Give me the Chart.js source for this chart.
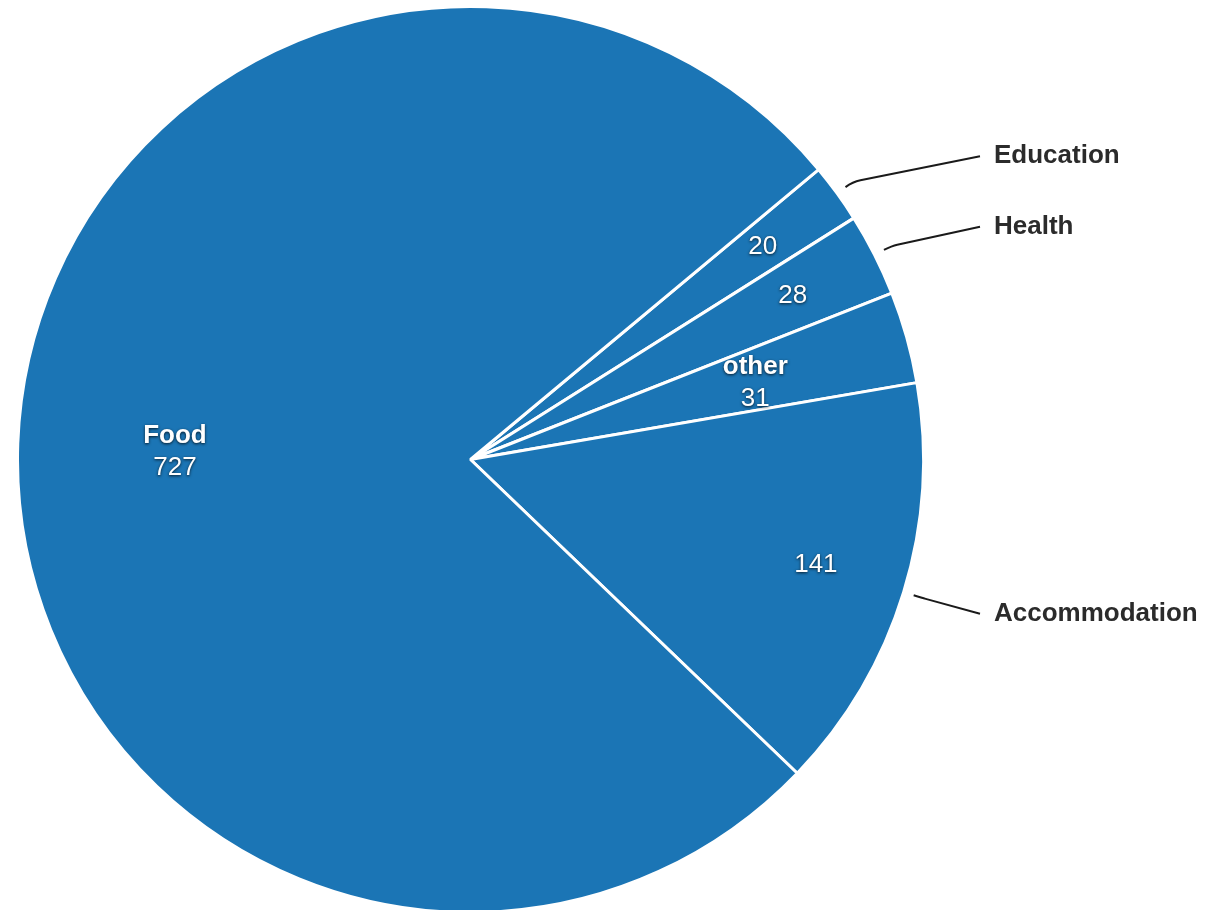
<!DOCTYPE html>
<html>
<head>
<meta charset="utf-8">
<script src="https://cdn.jsdelivr.net/npm/chart.js@4.4.1/dist/chart.umd.min.js"></script>
<style>
  html, body { margin: 0; padding: 0; background: #fff; }
  #wrap { width: 1209px; height: 910px; }
</style>
</head>
<body>
<div id="wrap"><canvas id="pie-chart"></canvas></div>
<script>
const categories = ['Education', 'Health', 'other', 'Accommodation', 'Food'];
const amounts = [20, 28, 31, 141, 727];
// where the category name goes: inside the slice with the value, or outside with a leader line
const namePlacement = ['outside', 'outside', 'inside', 'outside', 'inside'];

const fontFamily = '"Liberation Sans", Arial, Helvetica, sans-serif';

const sliceLabels = {
  id: 'sliceLabels',
  afterDatasetsDraw(chart) {
    const ctx = chart.ctx;
    const arcs = chart.getDatasetMeta(0).data;
    arcs.forEach((arc, i) => {
      const p = arc.getProps(['x', 'y', 'startAngle', 'endAngle', 'outerRadius'], true);
      const mid = (p.startAngle + p.endAngle) / 2;
      const R = p.outerRadius - 1.5;
      const inside = namePlacement[i] === 'inside';

      // white labels inside the slice
      ctx.save();
      ctx.fillStyle = '#fff';
      ctx.textAlign = 'center';
      ctx.textBaseline = 'middle';
      ctx.shadowColor = 'rgba(0,0,0,0.8)';
      ctx.shadowBlur = 3;
      ctx.shadowOffsetX = 0;
      ctx.shadowOffsetY = 1;
      if (inside) {
        const r = R * 0.655;
        const tx = p.x + Math.cos(mid) * r;
        const ty = p.y + Math.sin(mid) * r + 3;
        ctx.font = 'bold 26px ' + fontFamily;
        ctx.fillText(categories[i], tx, ty - 16);
        ctx.font = '26px ' + fontFamily;
        ctx.fillText(String(amounts[i]), tx, ty + 16);
      } else {
        const r = R * 0.8;
        ctx.font = '26px ' + fontFamily;
        ctx.fillText(String(amounts[i]), p.x + Math.cos(mid) * r, p.y + Math.sin(mid) * r);
      }
      ctx.restore();

      if (!inside) {
        const sx = p.x + Math.cos(mid) * (R + 12);
        const sy = p.y + Math.sin(mid) * (R + 12);
        const hx = p.x + Math.cos(mid) * (R + 21);
        const hy = p.y + Math.sin(mid) * (R + 21);
        const ex = 980;
        const ey = p.y + Math.sin(mid) * (R + 68) + 2;
        ctx.save();
        ctx.strokeStyle = '#1a1a1a';
        ctx.lineWidth = 2;
        ctx.lineJoin = 'round';
        ctx.beginPath();
        ctx.moveTo(sx, sy);
        ctx.quadraticCurveTo(hx, hy, hx + (ex - hx) * 0.06, hy + (ey - hy) * 0.06);
        ctx.lineTo(ex, ey);
        ctx.stroke();
        ctx.fillStyle = '#2b2b2b';
        ctx.font = 'bold 26px ' + fontFamily;
        ctx.textAlign = 'left';
        ctx.textBaseline = 'middle';
        ctx.fillText(categories[i], ex + 14, ey);
        ctx.restore();
      }
    });
  }
};

new Chart(document.getElementById('pie-chart'), {
  type: 'pie',
  data: {
    labels: categories,
    datasets: [{
      data: amounts,
      backgroundColor: '#1b75b5',
      borderColor: '#ffffff',
      borderWidth: 3
    }]
  },
  options: {
    responsive: true,
    maintainAspectRatio: false,
    animation: false,
    rotation: 50.2,
    radius: 453,
    layout: { padding: { left: 19, right: 287, top: 9, bottom: 0 } },
    plugins: {
      legend: { display: false },
      tooltip: { enabled: false }
    }
  },
  plugins: [sliceLabels]
});
</script>
</body>
</html>
